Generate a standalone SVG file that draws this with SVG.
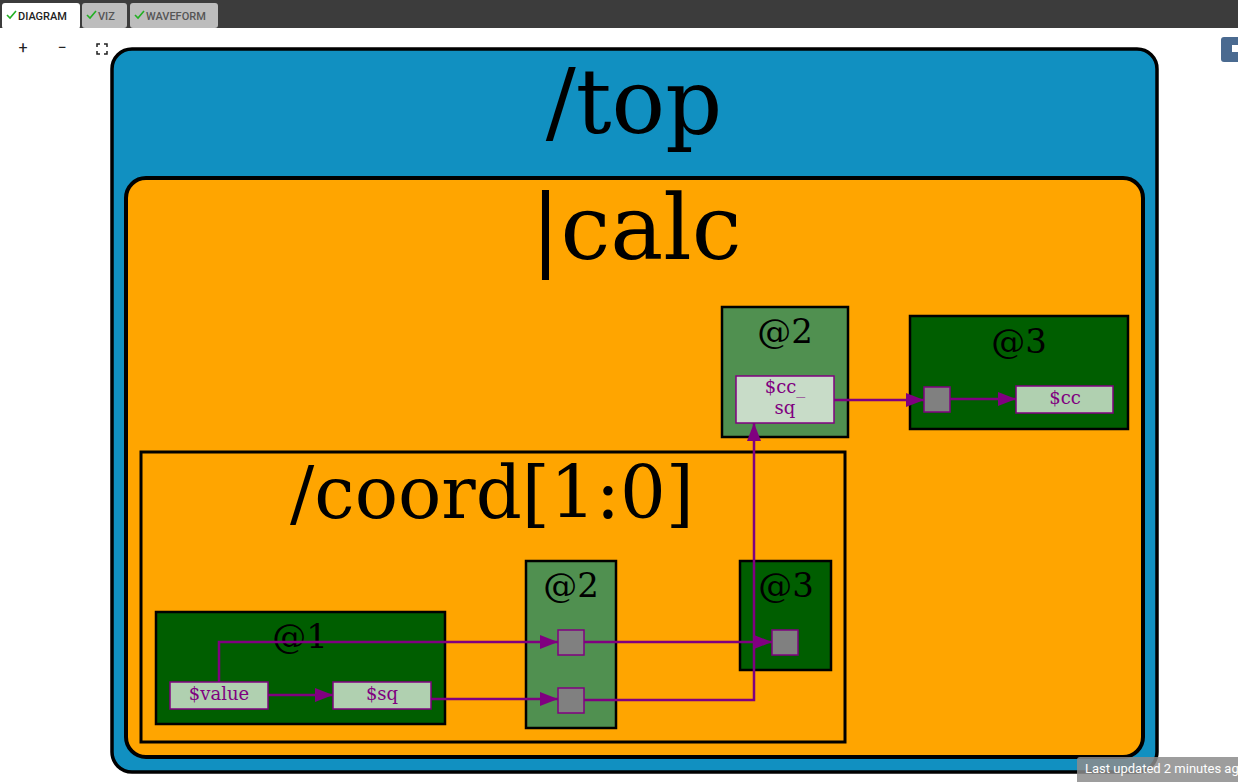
<svg xmlns="http://www.w3.org/2000/svg" width="1238" height="782" viewBox="0 0 1238 782">
<style>
.ui{font-family:Roboto,"Liberation Sans",sans-serif}
.tab{font-size:11px;font-weight:500;fill:#222}
.tabi{font-size:11px;font-weight:500;fill:#555}
.chk{fill:none;stroke:#22b022;stroke-width:1.6}
.title{font-family:"DejaVu Serif",serif;fill:#000;text-anchor:middle}
.stage{stroke:#000;stroke-width:2.5}
.lt{fill:#509050}
.dk{fill:#005e00}
.sig{stroke:#800080;stroke-width:1.5}
.sigt{font-family:"DejaVu Serif",serif;font-size:18px;fill:#800080;text-anchor:middle}
.port{fill:#808080;stroke:#800080;stroke-width:1.5}
.wire{fill:none;stroke:#800080;stroke-width:2.5}
</style>
<defs>
<marker id="ah" markerUnits="userSpaceOnUse" markerWidth="20" markerHeight="14" refX="18" refY="7" orient="auto">
<path d="M0,0 L18,7 L0,14 Z" fill="#800080"/>
</marker>
</defs>
<rect x="0" y="0" width="1238" height="782" fill="#ffffff"/>
<g id="ui-chrome">
<rect x="0" y="0" width="1238" height="28" fill="#3c3c3c"/>
<rect x="2" y="3" width="78" height="26" rx="3" fill="#ffffff"/>
<rect x="82" y="3" width="45" height="25" rx="3" fill="#bdbdbd"/>
<rect x="130" y="3" width="88" height="25" rx="3" fill="#bdbdbd"/>
<path class="chk" d="M7,15 L10,18 L16,11"/>
<text class="ui tab" x="18" y="20">DIAGRAM</text>
<path class="chk" d="M87,15 L90,18 L96,11"/>
<text class="ui tabi" x="98" y="20">VIZ</text>
<path class="chk" d="M135,15 L138,18 L144,11"/>
<text class="ui tabi" x="146" y="20">WAVEFORM</text>
<text class="ui" x="23" y="53" font-size="16" text-anchor="middle" fill="#222">+</text>
<text class="ui" x="62" y="53" font-size="16" text-anchor="middle" fill="#222">−</text>
<path d="M97,47 V44 H100 M104,44 H107 V47 M107,51 V54 H104 M100,54 H97 V51" fill="none" stroke="#222" stroke-width="1.5"/>
<rect x="1221" y="37" width="20" height="25" rx="3" fill="#4a6a90"/>
<rect x="1232" y="45" width="6" height="7" fill="#ffffff"/>
</g>
<g id="top">
<rect x="112" y="49" width="1045" height="723" rx="20" fill="#1190c1" stroke="#000" stroke-width="3.5"/>
<text class="title" x="634" y="133" font-size="89">/top</text>
</g>
<g id="calc">
<rect x="126" y="178" width="1017" height="579" rx="20" fill="#ffa500" stroke="#000" stroke-width="4"/>
<text class="title" x="636" y="259" font-size="89">|calc</text>
</g>
<g id="coord">
<rect x="141" y="452" width="704" height="290" fill="#ffa500" stroke="#000" stroke-width="3"/>
<text class="title" x="492" y="518" font-size="72">/coord[1:0]</text>
</g>
<g id="calc-stage2">
<rect class="stage lt" x="722" y="307" width="126" height="130"/>
<text class="title" x="785" y="343" font-size="34">@2</text>
</g>
<g id="cc_sq">
<rect class="sig" x="736" y="376" width="98" height="47" fill="#c8dcc8"/>
<text class="sigt" x="785" y="393">$cc_</text>
<text class="sigt" x="785" y="414">sq</text>
</g>
<g id="calc-stage3">
<rect class="stage dk" x="910" y="316" width="218" height="113"/>
<text class="title" x="1019" y="353" font-size="34">@3</text>
</g>
<g id="cc_sq-port3">
<rect class="port" x="924" y="387" width="26" height="25"/>
</g>
<g id="cc">
<rect class="sig" x="1016" y="386" width="97" height="27" fill="#b0d0b0"/>
<text class="sigt" x="1065" y="404">$cc</text>
</g>
<g id="coord-stage1">
<rect class="stage dk" x="156" y="612" width="289" height="112"/>
<text class="title" x="300" y="648" font-size="34">@1</text>
</g>
<g id="coord-stage2">
<rect class="stage lt" x="526" y="561" width="90" height="167"/>
<text class="title" x="571" y="597" font-size="34">@2</text>
</g>
<g id="coord-stage3">
<rect class="stage dk" x="740" y="561" width="91" height="109"/>
<text class="title" x="786" y="597" font-size="34">@3</text>
</g>
<g id="connectors">
<path class="wire" d="M834,400 H924" marker-end="url(#ah)"/>
<path class="wire" d="M950,399 H1016" marker-end="url(#ah)"/>
<path class="wire" d="M219,682 V642 H558" marker-end="url(#ah)"/>
<path class="wire" d="M268,695 H333" marker-end="url(#ah)"/>
<path class="wire" d="M431,699 H558" marker-end="url(#ah)"/>
<path class="wire" d="M584,642 H772" marker-end="url(#ah)"/>
<path class="wire" d="M584,700 H754 V423" marker-end="url(#ah)"/>
</g>
<g id="value">
<rect class="sig" x="170" y="682" width="98" height="27" fill="#b0d0b0"/>
<text class="sigt" x="219" y="700">$value</text>
</g>
<g id="sq">
<rect class="sig" x="333" y="682" width="98" height="27" fill="#b0d0b0"/>
<text class="sigt" x="382" y="700">$sq</text>
</g>
<g id="value-port2">
<rect class="port" x="558" y="630" width="26" height="25"/>
</g>
<g id="sq-port2">
<rect class="port" x="558" y="688" width="26" height="25"/>
</g>
<g id="value-port3">
<rect class="port" x="772" y="630" width="26" height="25"/>
</g>
<g id="status">
<rect x="1077" y="757" width="170" height="28" rx="3" fill="#8c8c8c" fill-opacity="0.85"/>
<text class="ui" x="1085" y="773" font-size="13" fill="#ffffff">Last updated 2 minutes ago</text>
</g>
</svg>
